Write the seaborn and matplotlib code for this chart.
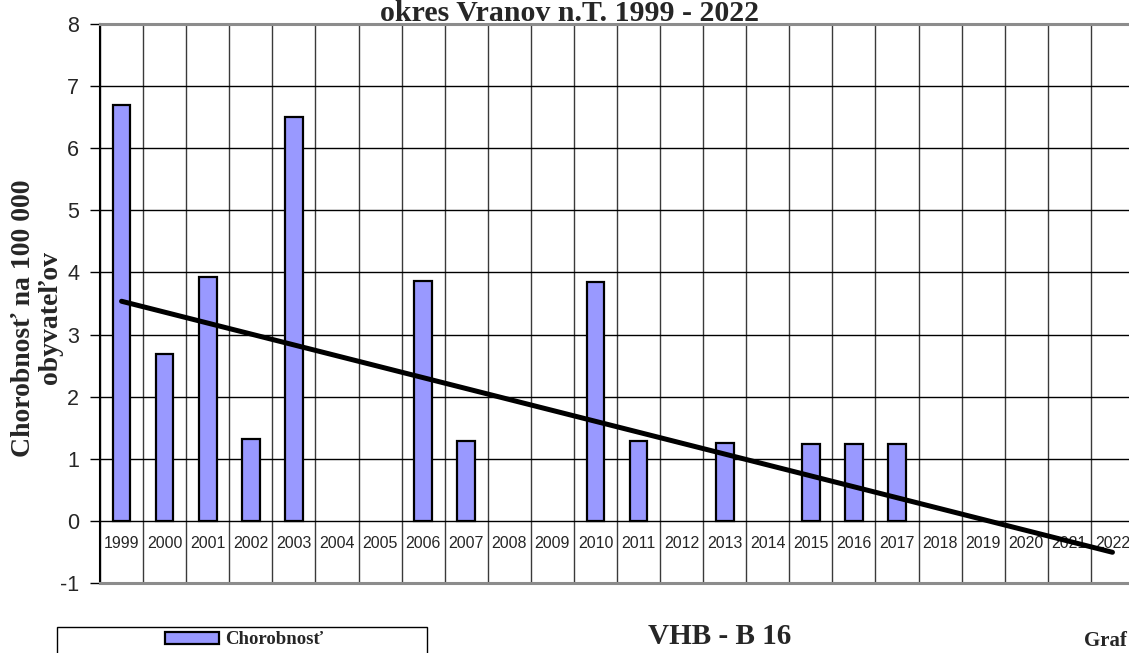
import numpy as np
import pandas as pd
import matplotlib.pyplot as plt
import seaborn as sns
from matplotlib.patches import Rectangle

# === data ===
years = ['1999', '2000', '2001', '2002', '2003', '2004', '2005', '2006',
         '2007', '2008', '2009', '2010', '2011', '2012', '2013', '2014',
         '2015', '2016', '2017', '2018', '2019', '2020', '2021', '2022']
chorobnost = [6.70, 2.68, 3.93, 1.32, 6.50, np.nan, np.nan, 3.87,
              1.28, np.nan, np.nan, 3.84, 1.28, np.nan, 1.25, np.nan,
              1.24, 1.24, 1.24, np.nan, np.nan, np.nan, np.nan, np.nan]
y_ticks = [-1, 0, 1, 2, 3, 4, 5, 6, 7, 8]

df = pd.DataFrame({'rok': years, 'chorobnost': chorobnost})
df['pos'] = np.arange(len(df))
df['trend_y'] = df['chorobnost'].fillna(0)

# === style ===
sns.set_style('white')
plt.rcParams['font.family'] = ['Liberation Sans', 'DejaVu Sans']
plt.rcParams['axes.unicode_minus'] = False
serif = ['Liberation Serif', 'DejaVu Serif']

W, H = 1129, 653
fig = plt.figure(figsize=(W / 100, H / 100), dpi=100)
ax = fig.add_axes([100 / W, 1 - 583 / H, 1034 / W, (583 - 24) / H])

# === bars ===
sns.barplot(data=df, x='rok', y='chorobnost', order=years, color='#9999ff',
            saturation=1, width=0.41, edgecolor='black', linewidth=1.6, ax=ax)

# === linear trend (missing years counted as 0) ===
sns.regplot(data=df, x='pos', y='trend_y', scatter=False, ci=None,
            color='black', line_kws={'lw': 3.6, 'solid_capstyle': 'round'}, ax=ax)

# === axes ===
ax.set_xlim(-0.5, len(years) - 0.5)
ax.set_ylim(-1, 8)
ax.set_yticks(y_ticks)
ax.set_xticks(np.arange(len(years)))
ax.set_xticklabels(years)
ax.set_xticks(np.arange(len(years) + 1) - 0.5, minor=True)
ax.set_xlabel('')
ax.set_ylabel('')

ax.grid(False)
ax.yaxis.grid(True, color='black', lw=1)
ax.xaxis.grid(True, which='minor', color='#3a3a3a', lw=1)
ax.set_axisbelow(True)

ax.tick_params(axis='y', which='major', direction='out', length=7, width=1,
               color='black', pad=8, labelsize=15.5, left=True)
ax.tick_params(axis='x', which='major', length=0, pad=-34, labelsize=11.5)
ax.tick_params(axis='x', which='minor', length=0)

for side in ['top', 'bottom']:
    ax.spines[side].set_color('#8c8c8c')
    ax.spines[side].set_linewidth(2.2)
ax.spines['left'].set_color('black')
ax.spines['left'].set_linewidth(1.5)
ax.spines['right'].set_visible(False)

# === texts ===
fig.text(569 / W, 1 - 21 / H, 'okres Vranov n.T. 1999 - 2022', ha='center',
         va='baseline', fontsize=21.5, fontweight='bold', family=serif)
fig.text(37 / W, 1 - 318 / H, 'Chorobnosť na 100 000\nobyvateľov', rotation=90,
         ha='center', va='center', fontsize=20, fontweight='bold',
         family=serif, linespacing=1.15, multialignment='center')
fig.text(720 / W, 1 - 637 / H, 'VHB - B 16', ha='center', va='center',
         fontsize=21, fontweight='bold', family=serif)
fig.text(1127 / W, 1 - 651 / H, 'Graf', ha='right', va='bottom',
         fontsize=15, fontweight='bold', family=serif)

# === legend box ===
fig.patches.append(Rectangle((57 / W, 1 - 680 / H), 370 / W, 53 / H,
                             transform=fig.transFigure, fill=False,
                             edgecolor='black', lw=1))
bar_handle = ax.patches[0]
fig.legend([bar_handle], ['Chorobnosť'], loc='center left',
           bbox_to_anchor=(148 / W, 1 - 640 / H), frameon=False,
           handlelength=2.9, handleheight=0.6, handletextpad=0.3,
           prop={'family': serif, 'weight': 'bold', 'size': 13.5})

fig.savefig('out.png', dpi=100)
